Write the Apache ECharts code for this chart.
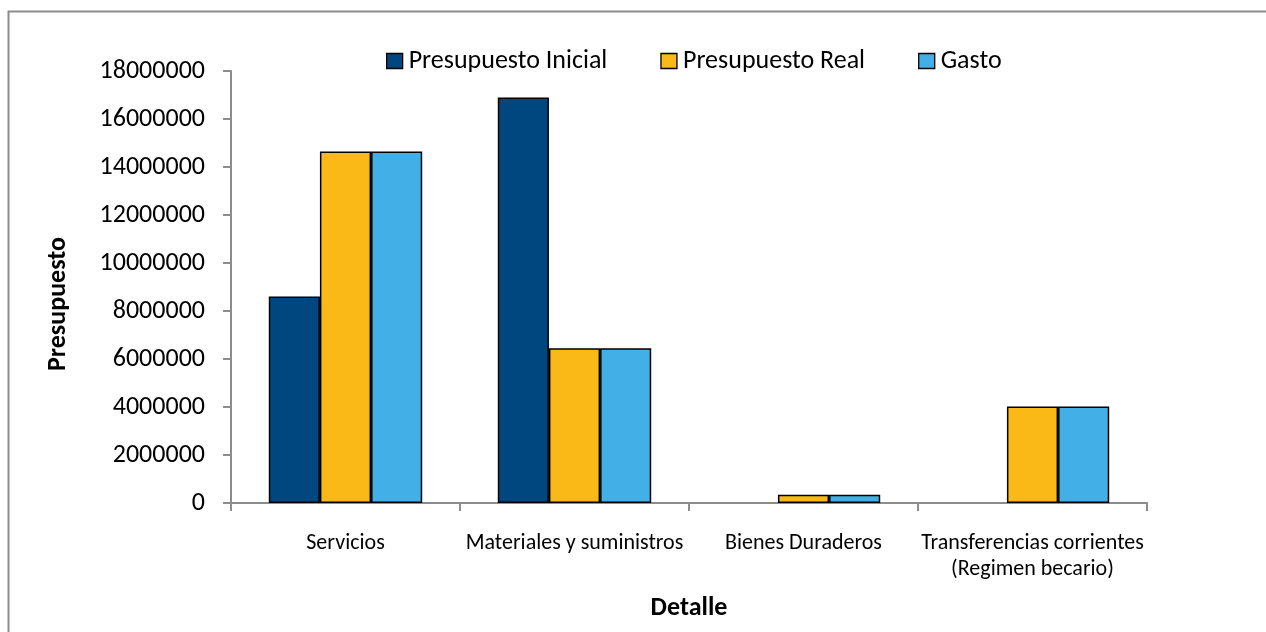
<!DOCTYPE html>
<html><head><meta charset="utf-8">
<script src="https://cdn.jsdelivr.net/npm/echarts@6/dist/echarts.min.js"></script>
<style>html,body{margin:0;padding:0;background:#fff}#c{width:1266px;height:632px}</style>
</head><body><div id="c"></div>
<script>
const categories = ['Servicios', 'Materiales y suministros', 'Bienes Duraderos', 'Transferencias corrientes\n(Regimen becario)'];
const seriesNames = ['Presupuesto Inicial', 'Presupuesto Real', 'Gasto'];
const presupuestoInicial = [8600000, 16900000, null, null];
const presupuestoReal = [14650000, 6450000, 340000, 4020000];
const gasto = [14650000, 6450000, 340000, 4020000];
const colors = ['#00467F', '#FBB917', '#42AFE6'];
const yTicks = {min: 0, max: 18000000, interval: 2000000};

const FONT = 'Carlito, Lato, "Open Sans", sans-serif';
const chart = echarts.init(document.getElementById('c'), null, {renderer: 'canvas'});
const dataSets = [presupuestoInicial, presupuestoReal, gasto];
chart.setOption({
  animation: false,
  textStyle: {fontFamily: FONT, color: '#000'},
  graphic: [{type: 'rect', shape: {x: 8.5, y: 11.5, width: 1300, height: 700}, style: {fill: 'none', stroke: '#8c8c8c', lineWidth: 2}, silent: true}],
  legend: {
    top: 43, left: 381, itemGap: 53, itemWidth: 16, itemHeight: 15,
    icon: 'rect',
    textStyle: {fontFamily: FONT, fontSize: 26, color: '#000', padding: [0, 0, 0, 1]},
    data: seriesNames,
    itemStyle: {borderColor: '#000', borderWidth: 1.3}
  },
  grid: {left: 231, right: 119, top: 71, bottom: 129, containLabel: false},
  xAxis: {
    type: 'category', data: categories,
    name: 'Detalle', nameLocation: 'middle', nameGap: 92,
    nameTextStyle: {fontFamily: FONT, fontSize: 26, fontWeight: 'bold', color: '#000'},
    axisLine: {lineStyle: {color: '#8c8c8c', width: 2}},
    axisTick: {show: true, length: 8, lineStyle: {color: '#8c8c8c', width: 2}},
    axisLabel: {fontFamily: FONT, fontSize: 22, color: '#000', margin: 27, lineHeight: 26, interval: 0}
  },
  yAxis: {
    type: 'value', min: yTicks.min, max: yTicks.max, interval: yTicks.interval,
    name: 'Presupuesto', nameLocation: 'middle', nameGap: 160, nameRotate: 90,
    nameTextStyle: {fontFamily: FONT, fontSize: 26, fontWeight: 'bold', color: '#000', padding: [0, 34, 0, 0]},
    axisLine: {show: true, lineStyle: {color: '#8c8c8c', width: 2}},
    axisTick: {show: true, length: 8, lineStyle: {color: '#8c8c8c', width: 2}},
    splitLine: {show: false},
    axisLabel: {fontFamily: FONT, fontSize: 26, color: '#000', margin: 26, formatter: v => String(v)}
  },
  series: seriesNames.map((n, i) => ({
    name: n, type: 'bar', data: dataSets[i],
    barGap: '0%', barCategoryGap: '33%',
    itemStyle: {color: colors[i], borderColor: '#000', borderWidth: 1.5}
  }))
});
</script></body></html>
